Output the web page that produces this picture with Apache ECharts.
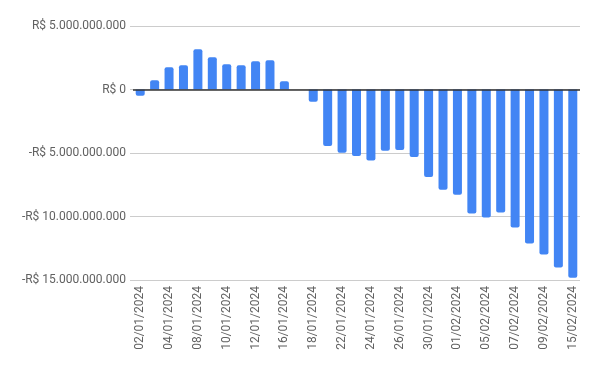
<!DOCTYPE html>
<html><head><meta charset="utf-8">
<script src="https://cdn.jsdelivr.net/npm/echarts@6/dist/echarts.min.js"></script>
<style>html,body{margin:0;padding:0;background:#fff}#c{width:600px;height:371px}</style>
</head><body><div id="c"></div>
<script>
const categories = ["02/01/2024","03/01/2024","04/01/2024","05/01/2024","08/01/2024","09/01/2024","10/01/2024","11/01/2024","12/01/2024","15/01/2024","16/01/2024","17/01/2024","18/01/2024","19/01/2024","22/01/2024","23/01/2024","24/01/2024","25/01/2024","26/01/2024","29/01/2024","30/01/2024","31/01/2024","01/02/2024","02/02/2024","05/02/2024","06/02/2024","07/02/2024","08/02/2024","09/02/2024","14/02/2024","15/02/2024"];
const values = [-0.5e9,0.73e9,1.76e9,1.91e9,3.17e9,2.54e9,1.99e9,1.91e9,2.23e9,2.31e9,0.65e9,0,-0.97e9,-4.44e9,-4.99e9,-5.23e9,-5.59e9,-4.83e9,-4.76e9,-5.31e9,-6.88e9,-7.89e9,-8.28e9,-9.76e9,-10.08e9,-9.69e9,-10.87e9,-12.13e9,-12.99e9,-14.02e9,-14.83e9];
const yTicks = {min:-15e9, max:5e9, interval:5e9};

function fmt(v){
  const neg = v < 0;
  const s = Math.abs(v).toFixed(0).replace(/\B(?=(\d{3})+(?!\d))/g, ".");
  return (neg ? "-" : "") + "R$ " + s;
}
const chart = echarts.init(document.getElementById('c'), null, {renderer:'canvas'});
chart.setOption({
  animation:false,
  grid:{left:133,right:20,top:26,bottom:91},
  xAxis:{type:'category',data:categories,
    axisLine:{show:false,onZero:false},axisTick:{show:false},
    axisLabel:{rotate:90,interval:1,margin:6,color:'#616161',fontFamily:'Roboto',fontSize:12}},
  yAxis:{type:'value',min:yTicks.min,max:yTicks.max,interval:yTicks.interval,
    axisLine:{show:false},axisTick:{show:true,length:3,lineStyle:{color:'#cccccc'}},
    splitLine:{lineStyle:{color:'#cccccc',width:1}},
    axisLabel:{formatter:fmt,margin:7,color:'#616161',fontFamily:'Roboto',fontSize:12}},
  series:[{type:'bar',barWidth:9,
    data:values.map(v=>({value:v,itemStyle:{borderRadius:v>=0?[2,2,0,0]:[0,0,2,2]}})),
    itemStyle:{color:'#4285F4'},
    markLine:{silent:true,symbol:'none',label:{show:false},
      lineStyle:{color:'#333333',type:'solid',width:1.5},data:[{yAxis:0}]}
  }]
});
</script></body></html>
